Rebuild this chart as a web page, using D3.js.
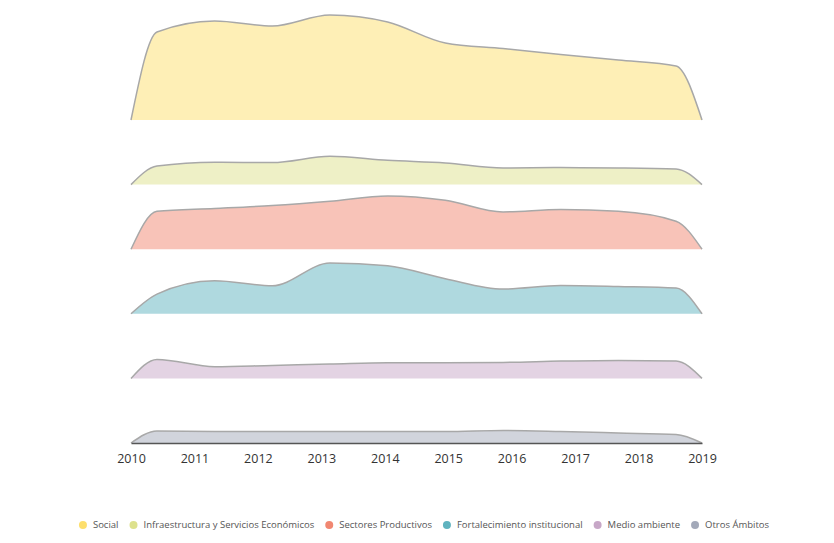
<!DOCTYPE html>
<html>
<head>
<meta charset="utf-8">
<script src="https://cdn.jsdelivr.net/npm/d3@7/dist/d3.min.js"></script>
<style>
  html, body { margin: 0; padding: 0; background: #fff; }
  svg { display: block; }
</style>
</head>
<body>
<svg id="chart" width="834" height="543"></svg>
<script>
// ---- data ----
const years = [2010, 2011, 2012, 2013, 2014, 2015, 2016, 2017, 2018, 2019];
const categories = ["Social", "Infraestructura y Servicios Económicos", "Sectores Productivos",
                    "Fortalecimiento institucional", "Medio ambiente", "Otros Ámbitos"];
const colors = ["#FDDF6D", "#DDE18D", "#F18771", "#5FB3BF", "#C7A7C7", "#A3A9B9"];
const social        = [88, 99, 94, 105, 98, 77, 71.5, 65.5, 60, 54];
const infraestructura = [18.5, 22.3, 22, 28.3, 24.3, 21.7, 16.7, 17, 16.7, 15.7];
const productivos   = [38, 40.7, 43.7, 48, 53.3, 49, 37.3, 39.7, 38, 28];
const fortalecimiento = [19.7, 33, 28, 50.7, 48, 35, 24.7, 28.3, 27.3, 25.7];
const medioAmbiente = [19, 11.7, 13, 14.3, 15.7, 15.7, 16, 17.3, 18, 17.3];
const otros         = [12, 11.5, 11.5, 11.5, 11.5, 11.5, 12.5, 11.5, 10, 8.5];
const seriesValues = [social, infraestructura, productivos, fortalecimiento, medioAmbiente, otros];

// ---- layout ----
const svg = d3.select("#chart");
const left = 131, right = 702;
const topBase = 120, bottomBase = 443;

const x = d3.scaleLinear().domain([2010, 2019]).range([left, right]);
const xData = d3.scalePoint().domain(years).range([left, right]).padding(0.45);
const rowY = d3.scalePoint().domain(categories).range([topBase, bottomBase]);
const h = d3.scaleLinear().domain([0, 105]).range([0, 105]);

const area = d3.area()
  .x(d => d.x)
  .y0(d => d.base)
  .y1(d => d.base - h(d.v))
  .curve(d3.curveMonotoneX);
const line = d3.line()
  .x(d => d.x)
  .y(d => d.base - h(d.v))
  .curve(d3.curveMonotoneX);

categories.forEach((cat, i) => {
  const base = rowY(cat);
  const pts = [{x: x(2010), v: 0, base}]
    .concat(years.map((yr, j) => ({x: xData(yr), v: seriesValues[i][j], base})))
    .concat([{x: x(2019), v: 0, base}]);
  const g = svg.append("g");
  g.append("path").attr("d", area(pts))
    .attr("fill", colors[i]).attr("fill-opacity", 0.5);
  g.append("path").attr("d", line(pts))
    .attr("fill", "none").attr("stroke", "#a8a8a8").attr("stroke-width", 1.5)
    .attr("stroke-linejoin", "round");
});

// ---- x axis ----
const axis = d3.axisBottom(x).tickValues(years).tickFormat(d3.format("d")).tickSize(0).tickPadding(11);
const ax = svg.append("g").attr("transform", `translate(0,${bottomBase})`).call(axis);
ax.select(".domain").attr("stroke", "#555").attr("stroke-width", 1.5);
ax.selectAll("text").attr("font-family", "'Open Sans', sans-serif").attr("font-size", 12.5).attr("fill", "#333");

// ---- legend ----
const legend = svg.append("g").attr("transform", "translate(0,525)");
const items = legend.selectAll("g").data(categories).join("g");
items.append("circle").attr("r", 4).attr("cy", 0).attr("fill", (d, i) => colors[i]);
items.append("text").text(d => d).attr("x", 10).attr("dy", "0.35em")
  .attr("font-family", "'Open Sans', sans-serif").attr("font-size", 9.5).attr("fill", "#555");
let widths = [];
items.each(function() { widths.push(this.querySelector("text").getComputedTextLength() + 10); });
const gap = 15;
const total = d3.sum(widths) + gap * (widths.length - 1);
let cx = 422 - total / 2 + 4;
items.attr("transform", (d, i) => { const t = `translate(${cx},0)`; cx += widths[i] + gap; return t; });
</script>
</body>
</html>
